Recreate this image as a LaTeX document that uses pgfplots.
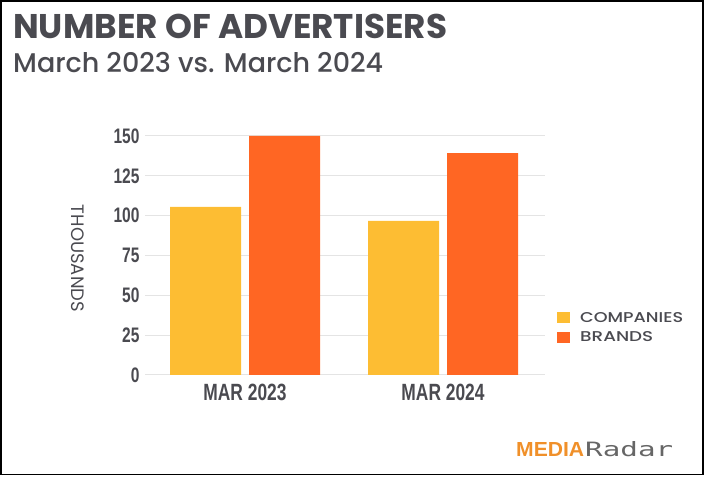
\documentclass[border=0pt]{standalone}
\usepackage{fontspec}
\usepackage{pgfplots}
\pgfplotsset{compat=1.18}
\setmainfont{Poppins}
\newfontfamily\cond{Liberation Sans}[FakeStretch=0.74]
\newfontfamily\mono{DejaVu Sans Mono}
\definecolor{txt}{HTML}{4A4A50}
\definecolor{comp}{HTML}{FDBD33}
\definecolor{brand}{HTML}{FF6623}
\definecolor{gridc}{HTML}{E4E4E4}
\definecolor{logoor}{HTML}{F0902A}
\begin{document}
\begin{tikzpicture}[x=1pt,y=1pt]
\path (0,0) rectangle (704,489);
\draw[black,line width=1.6pt] (0.8,14.5) rectangle (702.8,488.2);
\node[anchor=base west,inner sep=0,text=txt] at (13,450)
  {\resizebox{434pt}{!}{\bfseries NUMBER OF ADVERTISERS}};
\node[anchor=base west,inner sep=0,text=txt] at (13,416)
  {\resizebox{370pt}{!}{\fontspec{Poppins Medium}March 2023 vs. March 2024}};
\begin{axis}[
  at={(145pt,114pt)}, anchor=south west,
  scale only axis, width=400pt, height=239pt,
  xmin=-0.505, xmax=1.515, ymin=0, ymax=150,
  ybar=8pt, bar width=71pt,
  axis line style={draw=none},
  major tick length=0pt,
  xtick={0,1}, xticklabels={MAR 2023, MAR 2024},
  ytick={0,25,50,75,100,125,150},
  ymajorgrids, grid style={gridc,line width=1pt},
  yticklabel style={font=\cond\bfseries\fontsize{21}{21}\selectfont,text=txt,xshift=-2pt},
  xticklabel style={font=\cond\bfseries\fontsize{23.5}{23.5}\selectfont,text=txt,yshift=-6pt},
  /pgf/number format/assume math mode=true,
  ylabel={\resizebox{107pt}{!}{THOUSANDS}},
  ylabel style={at={(axis description cs:-0.1675,0.4875)},anchor=center,rotate=180,text=txt},
  legend style={at={(rel axis cs:1.03,0.272)},anchor=north west,draw=none,fill=none,
    font=\fontspec{Poppins Medium}\fontsize{14.5}{14.5}\selectfont, text=txt, row sep=4pt, inner sep=0pt,
    legend cell align=left},
  legend image code/.code={\fill[#1] (0pt,-5.5pt) rectangle (13pt,5.5pt);},
]
\addplot[fill=comp,draw=none] coordinates {(0,105.5) (1,96.7)};
\addplot[fill=brand,draw=none] coordinates {(0,150) (1,139.3)};
\legend{\hspace*{8pt}\resizebox{103pt}{10pt}{COMPANIES},\hspace*{8pt}\resizebox{73pt}{10pt}{BRANDS}}
\end{axis}
\node[anchor=base west,inner sep=0,text=logoor] at (516,32)
  {\resizebox{68pt}{14pt}{\fontspec{Liberation Sans}[FakeStretch=0.85]\bfseries MEDIA}};
\node[anchor=base west,inner sep=0,text=black!60] at (585,32)
  {\resizebox{88pt}{15pt}{\mono Radar}};
\end{tikzpicture}
\end{document}
